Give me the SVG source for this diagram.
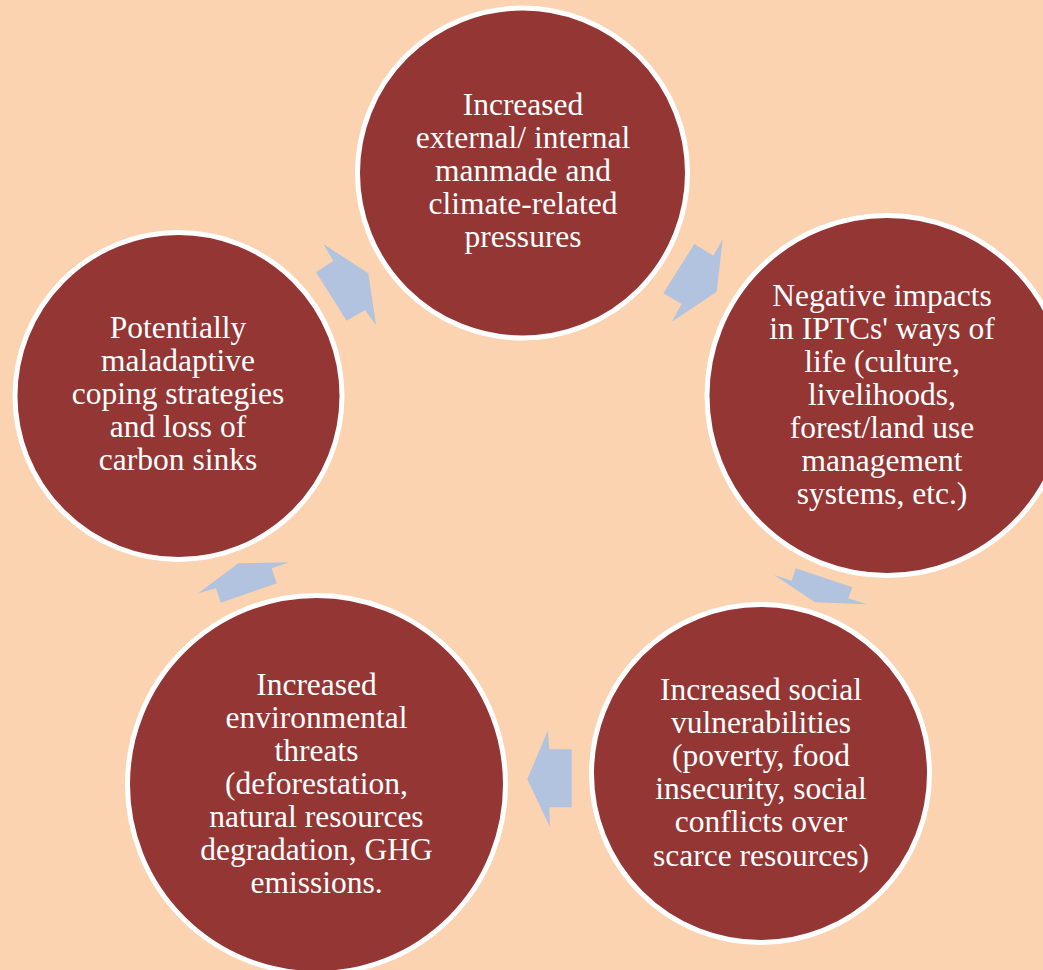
<svg xmlns="http://www.w3.org/2000/svg" width="1043" height="970" viewBox="0 0 1043 970">
<style>
.node circle{fill:#943634;stroke:#ffffff;stroke-width:5}
.node text{font-family:"Liberation Serif","Times New Roman",serif;font-size:31.5px;fill:#ffffff;text-anchor:middle}
.arrow{fill:#b1c3df}
</style>
<rect width="1043" height="970" fill="#fbd3b1"/>
<g id="connectors">
<polygon class="arrow" points="323.3,244 333.3,260.7 316,272.3 346.7,320.7 365,310 376,325 368.3,273.3"/>
<polygon class="arrow" points="694.3,244 713.3,255.7 722.7,239.3 716.7,291.7 671.7,321.7 681.7,304 663.3,293.3"/>
<polygon class="arrow" points="774.3,575 791.7,580.7 795.7,568.3 852.3,587.3 848.3,598.3 866.7,604.3 815,602.3"/>
<polygon class="arrow" points="547.7,730.7 549.3,749.3 571.7,749.3 571.7,807.3 549.3,807.3 550,827.3 527.3,779.3"/>
<polygon class="arrow" points="198.3,593.3 216,588.3 220.7,602.7 276.7,583.3 271.7,568.3 289.3,562.3 238.3,563.3"/>
</g>
<g id="node-pressures" class="node">
<circle cx="522.5" cy="173" r="165"/>
<text x="523" y="115">Increased</text>
<text x="523" y="148">external/ internal</text>
<text x="523" y="181">manmade and</text>
<text x="523" y="214">climate-related</text>
<text x="523" y="247">pressures</text>
</g>
<g id="node-impacts" class="node">
<circle cx="887" cy="395.5" r="180"/>
<text x="882" y="306">Negative impacts</text>
<text x="882" y="339">in IPTCs' ways of</text>
<text x="882" y="372">life (culture,</text>
<text x="882" y="405">livelihoods,</text>
<text x="882" y="438">forest/land use</text>
<text x="882" y="471">management</text>
<text x="882" y="504">systems, etc.)</text>
</g>
<g id="node-social" class="node">
<circle cx="760.5" cy="773.5" r="169"/>
<text x="761" y="700">Increased social</text>
<text x="761" y="733">vulnerabilities</text>
<text x="761" y="766">(poverty, food</text>
<text x="761" y="799">insecurity, social</text>
<text x="761" y="832">conflicts over</text>
<text x="761" y="866">scarce resources)</text>
</g>
<g id="node-environment" class="node">
<circle cx="316.5" cy="784.5" r="189"/>
<text x="316.5" y="695">Increased</text>
<text x="316.5" y="728">environmental</text>
<text x="316.5" y="761">threats</text>
<text x="316.5" y="794">(deforestation,</text>
<text x="316.5" y="827">natural resources</text>
<text x="316.5" y="860">degradation, GHG</text>
<text x="316.5" y="893">emissions.</text>
</g>
<g id="node-coping" class="node">
<circle cx="178.5" cy="396" r="163.5"/>
<text x="178" y="338">Potentially</text>
<text x="178" y="371">maladaptive</text>
<text x="178" y="404">coping strategies</text>
<text x="178" y="437">and loss of</text>
<text x="178" y="470">carbon sinks</text>
</g>
</svg>
